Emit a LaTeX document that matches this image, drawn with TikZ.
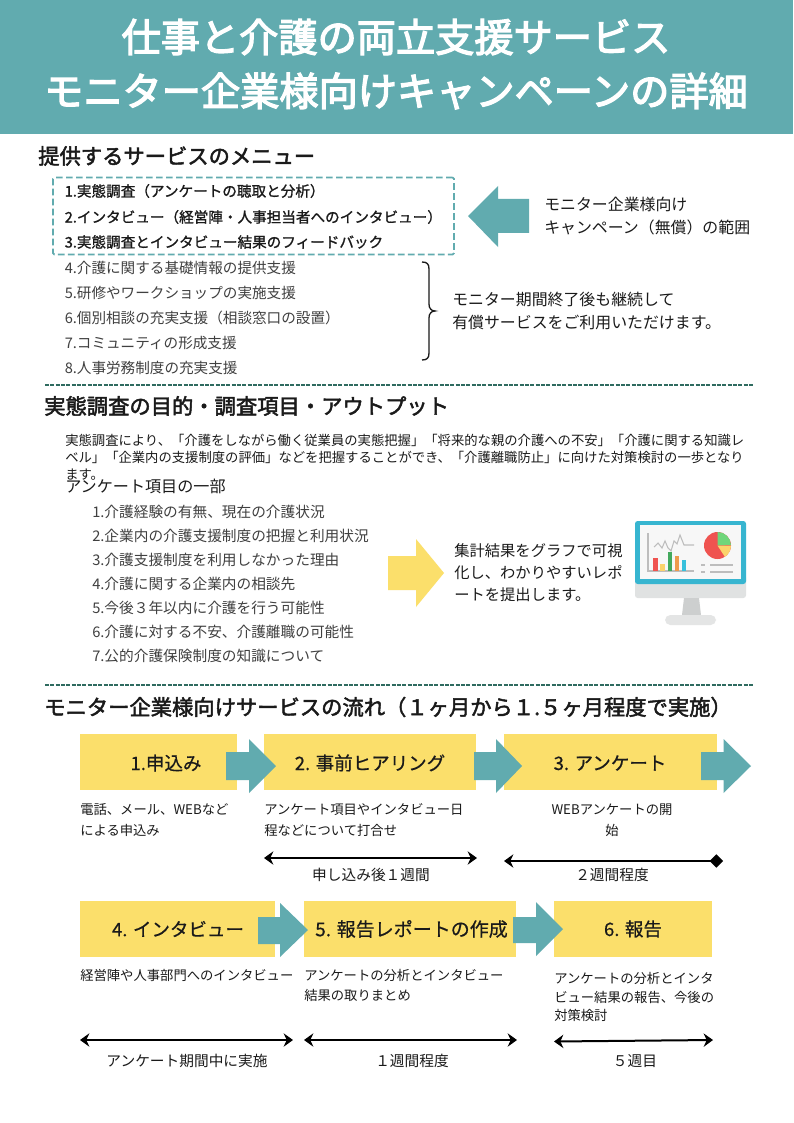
\documentclass[tikz,border=0pt]{standalone}
\usepackage{fontspec}
\setmainfont{Noto Sans CJK JP}
\newfontfamily\titlef[FakeBold=3.2]{Noto Sans CJK JP}
\newfontfamily\headf[FakeBold=2.2]{Noto Sans CJK JP}
\newfontfamily\menuf[FakeBold=1.2]{Noto Sans CJK JP}
\newfontfamily\lblf[FakeBold=0.6]{Noto Sans CJK JP}
\usetikzlibrary{arrows.meta}
\def\px#1{\fontsize{\fpeval{#1*0.75}}{\fpeval{#1*0.9}}\selectfont}
\definecolor{teal1}{HTML}{61ABAF}
\definecolor{yel1}{HTML}{FBDF6B}
\definecolor{ink}{HTML}{1A1A1A}
\definecolor{grayink}{HTML}{404040}
\definecolor{dashc}{HTML}{2F6B60}
\definecolor{mstand}{HTML}{E0E2E2}
\definecolor{mblue}{HTML}{37B5D0}
\definecolor{mscreen}{HTML}{F7F7F7}
\definecolor{mneck}{HTML}{CDCFCF}
\definecolor{mbase}{HTML}{E4E5E5}
\definecolor{mline}{HTML}{BDBDBD}
\definecolor{mred}{HTML}{EF5350}
\definecolor{myel}{HTML}{FBD36B}
\definecolor{mgreen}{HTML}{43A95D}
\definecolor{morange}{HTML}{EE9A4D}
\definecolor{mcyan}{HTML}{37C0DC}
\definecolor{mlgreen}{HTML}{6FD67A}
\tikzset{
  x=.75pt,y=-.75pt,
  lbl/.style={inner sep=0,anchor=west,text=ink},
  head/.style={lbl,font=\headf\px{21.3}},
  title/.style={inner sep=0,text=white,font=\titlef\px{39.2}},
  menub/.style={lbl,font=\menuf\px{14.6}},
  menug/.style={lbl,text=grayink,font=\px{14.6}},
  note/.style={lbl,font=\px{15.9}},
  para/.style={lbl,font=\px{13.33}},
  survey/.style={lbl,text=grayink,font=\px{14.68}},
  desc/.style={lbl,font=\px{13.32}},
  desc c/.style={desc,anchor=center},
  period/.style={inner sep=0,text=ink,font=\px{14.7}},
  ybox/.style={fill=yel1,inner sep=0,text=ink,minimum height=56*.75pt},
  boxlbl/.style={inner sep=0,text=ink,font=\lblf\px{18.5}},
  sep/.style={dashc,line width=1.4pt,dash pattern=on 3pt off 1pt},
  span/.style={line width=1.5pt,black,{Stealth[length=7pt,width=10pt]}-{Stealth[length=7pt,width=10pt]}},
  spand/.style={line width=1.5pt,black,{Stealth[length=7pt,width=10pt]}-{Diamond[length=10pt,width=10pt]}},
  tealarrow/.style={fill=teal1},
}
\begin{document}
\begin{tikzpicture}
\useasboundingbox (0,0) rectangle (793,1123);
\fill[white] (0,0) rectangle (793,1123);
\fill[teal1] (0,0) rectangle (793,134);
\node[title] (t1) at (396,37) {仕事と介護の両立支援サービス};
\node[title] (t2) at (396,91) {モニター企業様向けキャンペーンの詳細};

% section 1
\node[head] (h1) at (38,156) {提供するサービスのメニュー};
\node[draw=teal1,line width=1.3pt,dash pattern=on 5pt off 2.5pt,rounded corners=1pt,inner sep=0,minimum width=401*.75pt,minimum height=77*.75pt] (dbox) at (253.5,216) {};
\node[menub] (m1) at (64.5,191) {1.実態調査（アンケートの聴取と分析）};
\node[menub] (m2) at (64.5,217) {2.インタビュー（経営陣・人事担当者へのインタビュー）};
\node[menub] (m3) at (64.5,242) {3.実態調査とインタビュー結果のフィードバック};
\node[menug] (m4) at (64.5,268) {4.介護に関する基礎情報の提供支援};
\node[menug] (m5) at (64.5,293) {5.研修やワークショップの実施支援};
\node[menug] (m6) at (64.5,318) {6.個別相談の充実支援（相談窓口の設置）};
\node[menug] (m7) at (64.5,343) {7.コミュニティの形成支援};
\node[menug] (m8) at (64.5,368) {8.人事労務制度の充実支援};
\fill[tealarrow] (468,216) -- (498,186) -- (498,199) -- (529,199) -- (529,233) -- (498,233) -- (498,247) -- cycle;
\node[note] (n1) at (544,204) {モニター企業様向け};
\node[note] (n2) at (544,227) {キャンペーン（無償）の範囲};
\draw[ink,line width=1pt] (422,262) .. controls (427,262) and (429,264) .. (429,269) -- (429,304) .. controls (429,308) and (431,311) .. (435,311) .. controls (431,311) and (429,314) .. (429,318) -- (429,353) .. controls (429,358) and (427,360) .. (422,360);
\node[note] (n3) at (452,299) {モニター期間終了後も継続して};
\node[note] (n4) at (452,322) {有償サービスをご利用いただけます。};
\coordinate (s1a) at (45,385); \coordinate (s1b) at (754,385);
\draw[sep] (s1a) -- (s1b);

% section 2
\node[head] (h2) at (44,406) {実態調査の目的・調査項目・アウトプット};
\node[para] (p1) at (65,440) {実態調査により、「介護をしながら働く従業員の実態把握」「将来的な親の介護への不安」「介護に関する知識レ};
\node[para] (p2) at (65,457) {ベル」「企業内の支援制度の評価」などを把握することができ、「介護離職防止」に向けた対策検討の一歩となり};
\node[para] (p3) at (65,475) {ます。};
\node[lbl,font=\px{16.1}] (q0) at (65,486) {アンケート項目の一部};
\node[survey] (q1) at (92,512) {1.介護経験の有無、現在の介護状況};
\node[survey] (q2) at (92,536) {2.企業内の介護支援制度の把握と利用状況};
\node[survey] (q3) at (92,560) {3.介護支援制度を利用しなかった理由};
\node[survey] (q4) at (92,584) {4.介護に関する企業内の相談先};
\node[survey] (q5) at (92,608) {5.今後３年以内に介護を行う可能性};
\node[survey] (q6) at (92,632) {6.介護に対する不安、介護離職の可能性};
\node[survey] (q7) at (92,656) {7.公的介護保険制度の知識について};
\fill[yel1] (388,556) -- (416,556) -- (416,539) -- (444,573) -- (416,607) -- (416,590) -- (388,590) -- cycle;
\node[lbl,font=\px{15.3}] (r1) at (454,551) {集計結果をグラフで可視};
\node[lbl,font=\px{15.3}] (r2) at (454,573) {化し、わかりやすいレポ};
\node[lbl,font=\px{15.3}] (r3) at (454,595) {ートを提出します。};
% monitor icon
\fill[mstand,rounded corners=2pt] (635,575) rectangle (746,598);
\fill[mblue,rounded corners=2pt] (635,584) -- (635,521) -- (746,521) -- (746,584) -- cycle;
\fill[mscreen] (640,525) rectangle (741,579);
\fill[mneck] (684,598) -- (699,598) -- (701,615) -- (682,615) -- cycle;
\fill[mbase,rounded corners=4pt] (665,625) -- (665,615) -- (716,615) -- (716,625) -- cycle;
\draw[mline,line width=1pt] (648,533) -- (648,571) -- (694,571);
\draw[mline,line width=.8pt] (654,547) -- (658,543) -- (662,548) -- (665,541) -- (668,548) -- (671,551) -- (674,541) -- (677,544) -- (680,535) -- (684,545) -- (694,545);
\fill[mred] (653,558) rectangle (658,571);
\fill[myel] (660,564) rectangle (665,571);
\fill[mgreen] (668,552) rectangle (672,571);
\fill[morange] (675,556) rectangle (679,571);
\fill[mcyan] (682,560) rectangle (686,571);
\fill[mred] (717.5,545.5) circle[radius=13.5];
\fill[mlgreen] (717.5,545.5) -- (717.5,532) arc[start angle=-90,end angle=-2,radius=13.5] -- cycle;
\fill[myel] (717.5,545.5) -- (731,545.5) arc[start angle=0,end angle=57,radius=13.5] -- cycle;
\draw[mline,line width=.8pt] (701,565) -- (705,565) (710,565) -- (733,565) (701,572) -- (705,572) (710,572) -- (733,572);
\coordinate (s2a) at (45,685); \coordinate (s2b) at (754,685);
\draw[sep] (s2a) -- (s2b);

% section 3
\node[head] (h3) at (44,707) {モニター企業様向けサービスの流れ（１ヶ月から１.５ヶ月程度で実施）};
\node[ybox,minimum width=157*.75pt] (b1) at (158.5,762) {};
\node[ybox,minimum width=212*.75pt] (b2) at (370,762) {};
\node[ybox,minimum width=213*.75pt] (b3) at (610,762) {};
\node[ybox,minimum width=195*.75pt] (b4) at (177.5,928.5) {};
\node[ybox,minimum width=212*.75pt] (b5) at (410,928.5) {};
\node[ybox,minimum width=158*.75pt] (b6) at (633,928.5) {};
\fill[tealarrow] (226,752) -- (249,752) -- (249,739) -- (276,766) -- (249,793) -- (249,780) -- (226,780) -- cycle;
\fill[tealarrow] (474,752) -- (496,752) -- (496,739) -- (522,766) -- (496,793) -- (496,780) -- (474,780) -- cycle;
\fill[tealarrow] (701,752) -- (723.5,752) -- (723.5,739) -- (751,766) -- (723.5,793) -- (723.5,780) -- (701,780) -- cycle;
\fill[tealarrow] (258,917) -- (280,917) -- (280,903) -- (308,930) -- (280,957) -- (280,944) -- (258,944) -- cycle;
\fill[tealarrow] (513,917) -- (536,917) -- (536,902) -- (563,929) -- (536,956) -- (536,943) -- (513,943) -- cycle;
\node[boxlbl] (l1) at (166,763) {1.申込み};
\node[boxlbl] (l2) at (370,763) {2. 事前ヒアリング};
\node[boxlbl] (l3) at (610,763) {3. アンケート};
\node[boxlbl] (l4) at (178,929) {4. インタビュー};
\node[boxlbl,font=\lblf\px{19}] (l5) at (411.5,929) {5. 報告レポートの作成};
\node[boxlbl] (l6) at (633,929) {6. 報告};

\node[desc] (d1a) at (80,810) {電話、メール、WEBなど};
\node[desc] (d1b) at (80,830) {による申込み};
\node[desc] (d2a) at (264,810) {アンケート項目やインタビュー日};
\node[desc] (d2b) at (264,830) {程などについて打合せ};
\node[desc c] (d3a) at (612,810) {WEBアンケートの開};
\node[desc c] (d3b) at (612,830) {始};
\node[desc] (d4a) at (80,975) {経営陣や人事部門へのインタビュー};
\node[desc] (d5a) at (304,975) {アンケートの分析とインタビュー};
\node[desc] (d5b) at (304,995) {結果の取りまとめ};
\node[desc] (d6a) at (554,978) {アンケートの分析とインタ};
\node[desc] (d6b) at (554,997) {ビュー結果の報告、今後の};
\node[desc] (d6c) at (554,1015) {対策検討};

\coordinate (a2l) at (264,858); \coordinate (a2r) at (477,858);
\coordinate (a3l) at (504,861); \coordinate (a3r) at (723,861);
\coordinate (a4l) at (80,1040); \coordinate (a4r) at (293,1040);
\coordinate (a5l) at (304,1040); \coordinate (a5r) at (517,1040);
\coordinate (a6l) at (554,1041.5); \coordinate (a6r) at (713,1040);
\draw[span] (a2l) -- (a2r);
\draw[spand] (a3l) -- (a3r);
\draw[span] (a4l) -- (a4r);
\draw[span] (a5l) -- (a5r);
\draw[span] (a6l) -- (a6r);
\node[period] (w2) at (371,875) {申し込み後１週間};
\node[period] (w3) at (612,875) {２週間程度};
\node[period] (w4) at (187,1061) {アンケート期間中に実施};
\node[period] (w5) at (412,1061) {１週間程度};
\node[period] (w6) at (635,1061) {５週目};
\end{tikzpicture}
\end{document}
